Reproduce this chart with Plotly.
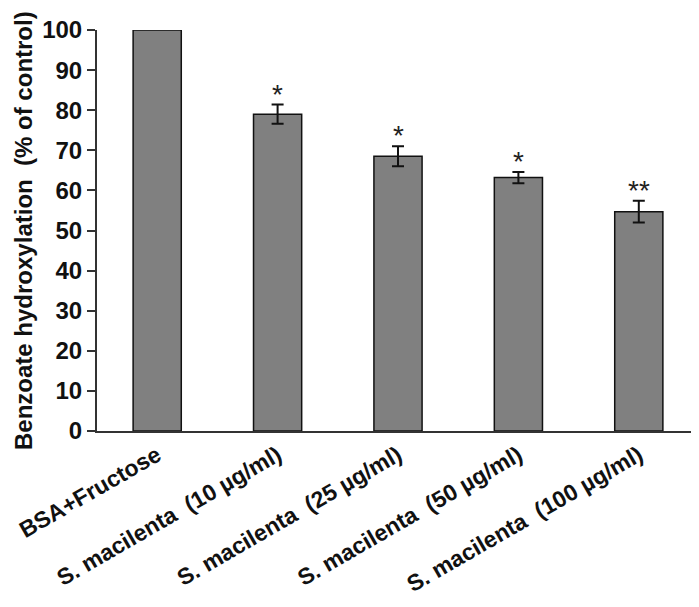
import plotly.graph_objects as go

categories = ["BSA+Fructose", "S. macilenta\u00a0 (10 µg/ml)", "S. macilenta\u00a0 (25 µg/ml)",
              "S. macilenta\u00a0 (50 µg/ml)", "S. macilenta\u00a0 (100 µg/ml)"]
values = [100, 79.0, 68.5, 63.2, 54.7]
errors = [None, 2.4, 2.5, 1.4, 2.7]
stars = ["", "*", "*", "*", "**"]
y_ticks = list(range(0, 101, 10))
y_title = "Benzoate hydroxylation\u00a0 (% of control)"

FONT = "Liberation Sans"

fig = go.Figure()
fig.add_trace(go.Bar(
    x=categories, y=values, width=0.4,
    marker=dict(color="#808080", line=dict(color="#111111", width=1.5)),
    showlegend=False,
))
err_x = [c for c, e in zip(categories, errors) if e is not None]
err_y = [v for v, e in zip(values, errors) if e is not None]
err_v = [e for e in errors if e is not None]
fig.add_trace(go.Scatter(
    x=err_x, y=err_y, mode="markers", marker=dict(size=0.1, color="rgba(0,0,0,0)"),
    error_y=dict(type="data", array=err_v, color="#111111", thickness=2, width=6),
    showlegend=False, hoverinfo="skip",
))
for c, v, e, s in zip(categories, values, errors, stars):
    if s:
        fig.add_annotation(x=c, y=v + (e or 0), text=s, showarrow=False,
                           yanchor="bottom", yshift=-7,
                           font=dict(family=FONT, size=28, color="#222222"))

# y-axis title as a rotated annotation, pushed close to the left edge
fig.add_annotation(xref="paper", yref="paper", x=0, y=0.5, xshift=-89,
                   xanchor="left", yanchor="middle", textangle=-90,
                   text="<b>" + y_title + "</b>", showarrow=False,
                   font=dict(family=FONT, size=24, color="#111111"))

# page body has an 8px default margin, so the figure is offset by (8, 8)
fig.update_layout(
    width=691, height=599,
    margin=dict(l=89, r=0, t=22, b=176),
    plot_bgcolor="white", paper_bgcolor="white",
    font=dict(family=FONT, color="#111111"),
)
fig.update_xaxes(
    range=[-0.5, 4.5], showline=True, linecolor="#333333", linewidth=2,
    ticks="", tickangle=-30,
    tickfont=dict(family=FONT, size=23, color="#111111", weight="bold"),
    showgrid=False,
)
fig.update_yaxes(
    range=[0, 100], tickvals=y_ticks, showline=True, linecolor="#333333", linewidth=2,
    ticks="outside", ticklen=8, tickwidth=2, tickcolor="#333333",
    tickfont=dict(family=FONT, size=24, color="#111111", weight="bold"),
    showgrid=False, zeroline=False,
)

fig.write_html("out.html")
